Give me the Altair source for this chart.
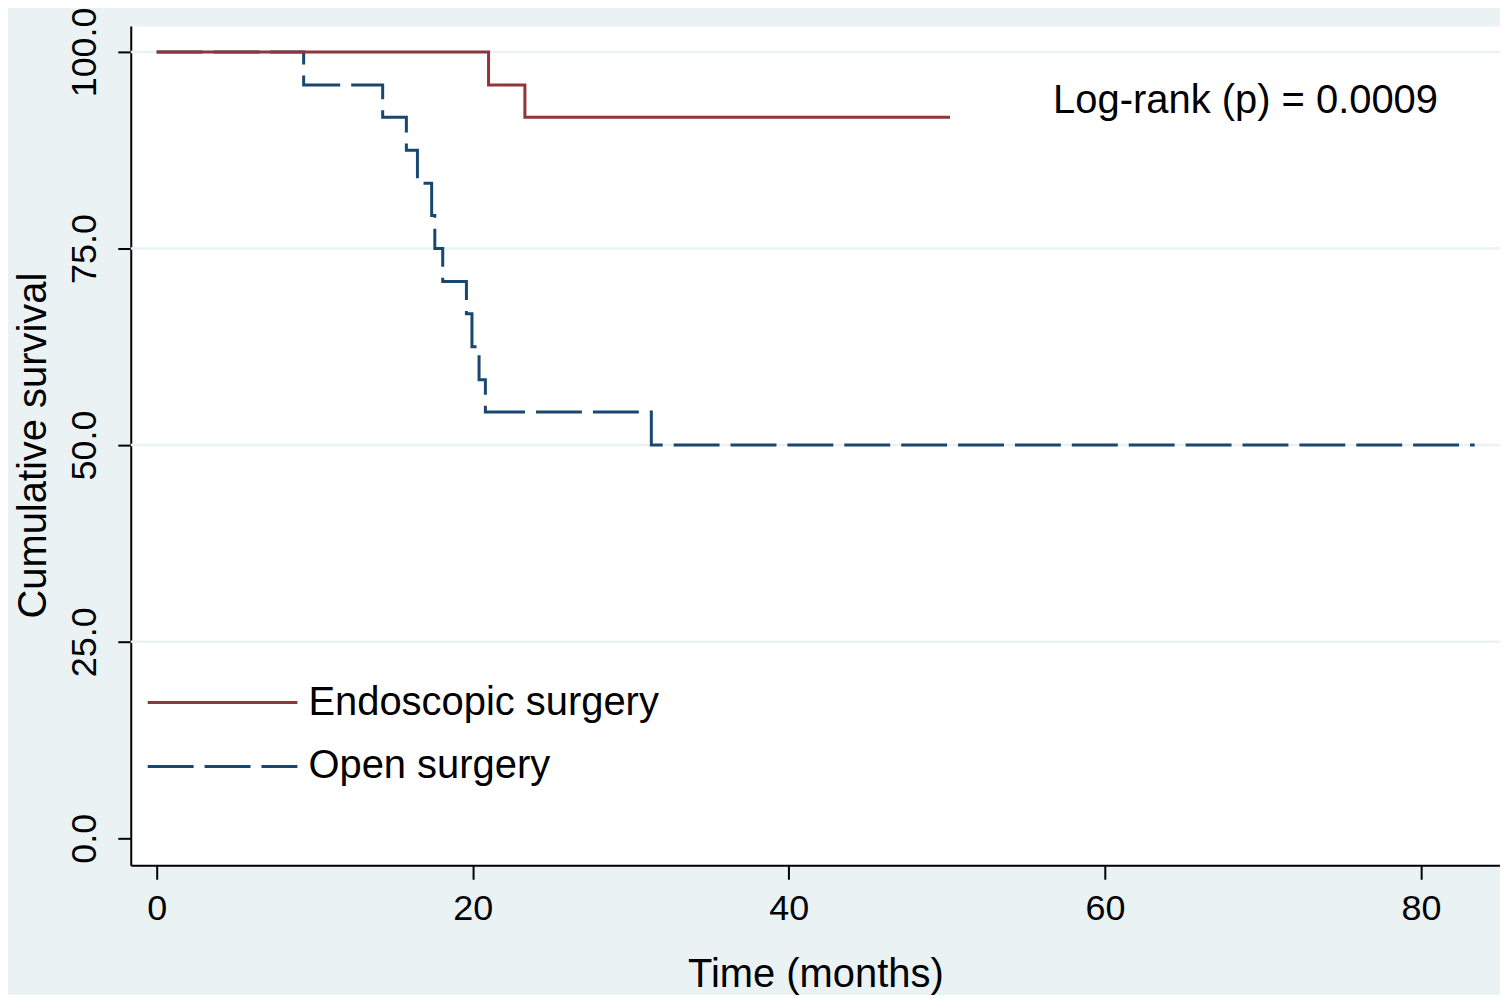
import altair as alt
import pandas as pd

# ---- data ----
groups = ["Endoscopic surgery", "Open surgery"]
group_colors = ["#90353B", "#1A476F"]

endo_time = [0, 21.0, 23.3, 50.2]
endo_surv = [100, 95.8, 91.7, 91.7]

open_time = [0, 9.3, 14.3, 15.8, 16.5, 17.4, 17.6, 18.1, 19.6, 19.95, 20.4, 20.8, 31.3, 83.4]
open_surv = [100, 95.8, 91.7, 87.5, 83.3, 79.2, 75.0, 70.8, 66.7, 62.5, 58.3, 54.2, 50.0, 50.0]

x_ticks = [0, 20, 40, 60, 80]
y_ticks = [0, 25, 50, 75, 100]
grid_values = [25, 50, 75, 100]

annotation_text = ["Log-rank (p) = 0.0009"]
annotation_x = [68.9]
annotation_y = [93.8]

FONT = "Liberation Sans"
BG = "#EAF2F3"

# ---- tables ----
rows = []
for t, s in zip(open_time, open_surv):
    rows.append({"time": t, "surv": s, "group": groups[1]})
for t, s in zip(endo_time, endo_surv):
    rows.append({"time": t, "surv": s, "group": groups[0]})
df = pd.DataFrame(rows)
grid_df = pd.DataFrame({"surv": grid_values})
annot_df = pd.DataFrame({"time": annotation_x, "surv": annotation_y, "label": annotation_text})

x_scale = alt.Scale(domain=[-1.64, 85.0], nice=False, zero=False)
y_scale = alt.Scale(domain=[-3.43, 103.3], nice=False, zero=False)

x_axis = alt.Axis(
    values=x_ticks,
    format="d",
    grid=False,
    title="Time (months)",
    labelFontSize=36,
    labelPadding=12,
    labelFlush=False,
    labelOverlap=False,
    tickSize=14,
    titleFontSize=40,
    titleX=686,
    titleY=109,
    titleAlign="center",
    titleBaseline="middle",
)

y_axis = alt.Axis(
    values=y_ticks,
    format=".1f",
    grid=False,
    title="Cumulative survival",
    labelFontSize=36,
    labelAngle=270,
    labelAlign="center",
    labelBaseline="middle",
    labelPadding=33,
    labelFlush=False,
    labelOverlap=False,
    tickSize=13,
    titleFontSize=40,
    titleAngle=270,
    titleX=-97,
    titleY=420,
    titleAlign="center",
    titleBaseline="middle",
)

legend = alt.Legend(
    title=None,
    orient="none",
    legendX=12,
    legendY=658,
    direction="vertical",
    symbolType="M-1,0H9",
    symbolSize=900,
    symbolStrokeWidth=3,
    labelFont=FONT,
    labelFontSize=40,
    labelColor="black",
    labelOffset=126,
    labelLimit=800,
    rowPadding=24,
    padding=0,
)

grid = alt.Chart(grid_df).mark_rule(color=BG, strokeWidth=2.5).encode(
    y=alt.Y("surv:Q", scale=y_scale, axis=y_axis)
)

lines = alt.Chart(df).mark_line(interpolate="step-after", strokeWidth=3, strokeCap="butt").encode(
    x=alt.X("time:Q", scale=x_scale, axis=x_axis),
    y=alt.Y("surv:Q", scale=y_scale, axis=y_axis),
    color=alt.Color("group:N", scale=alt.Scale(domain=groups, range=group_colors), legend=legend),
    strokeDash=alt.StrokeDash(
        "group:N", scale=alt.Scale(domain=groups, range=[[1, 0], [46, 11]]), legend=legend
    ),
    detail="group:N",
)

annot = alt.Chart(annot_df).mark_text(
    font=FONT, fontSize=40, color="black", align="center", baseline="middle"
).encode(
    x=alt.X("time:Q", scale=x_scale, axis=x_axis),
    y=alt.Y("surv:Q", scale=y_scale, axis=y_axis),
    text="label:N",
)

chart = (
    alt.layer(grid, lines, annot)
    .properties(
        width=1372,
        height=841,
        background=BG,
        padding={"left": 123, "top": 17, "right": 0, "bottom": 129},
        autosize=alt.AutoSizeParams(type="none"),
    )
    .configure_view(fill="white", stroke="transparent")
    .configure_axis(
        labelFont=FONT,
        titleFont=FONT,
        labelColor="black",
        titleColor="black",
        titleFontWeight="normal",
        domainColor="black",
        domainWidth=2,
        tickColor="black",
        tickWidth=2,
    )
)

chart.save("out.html", embed_options={"renderer": "svg", "actions": False})
